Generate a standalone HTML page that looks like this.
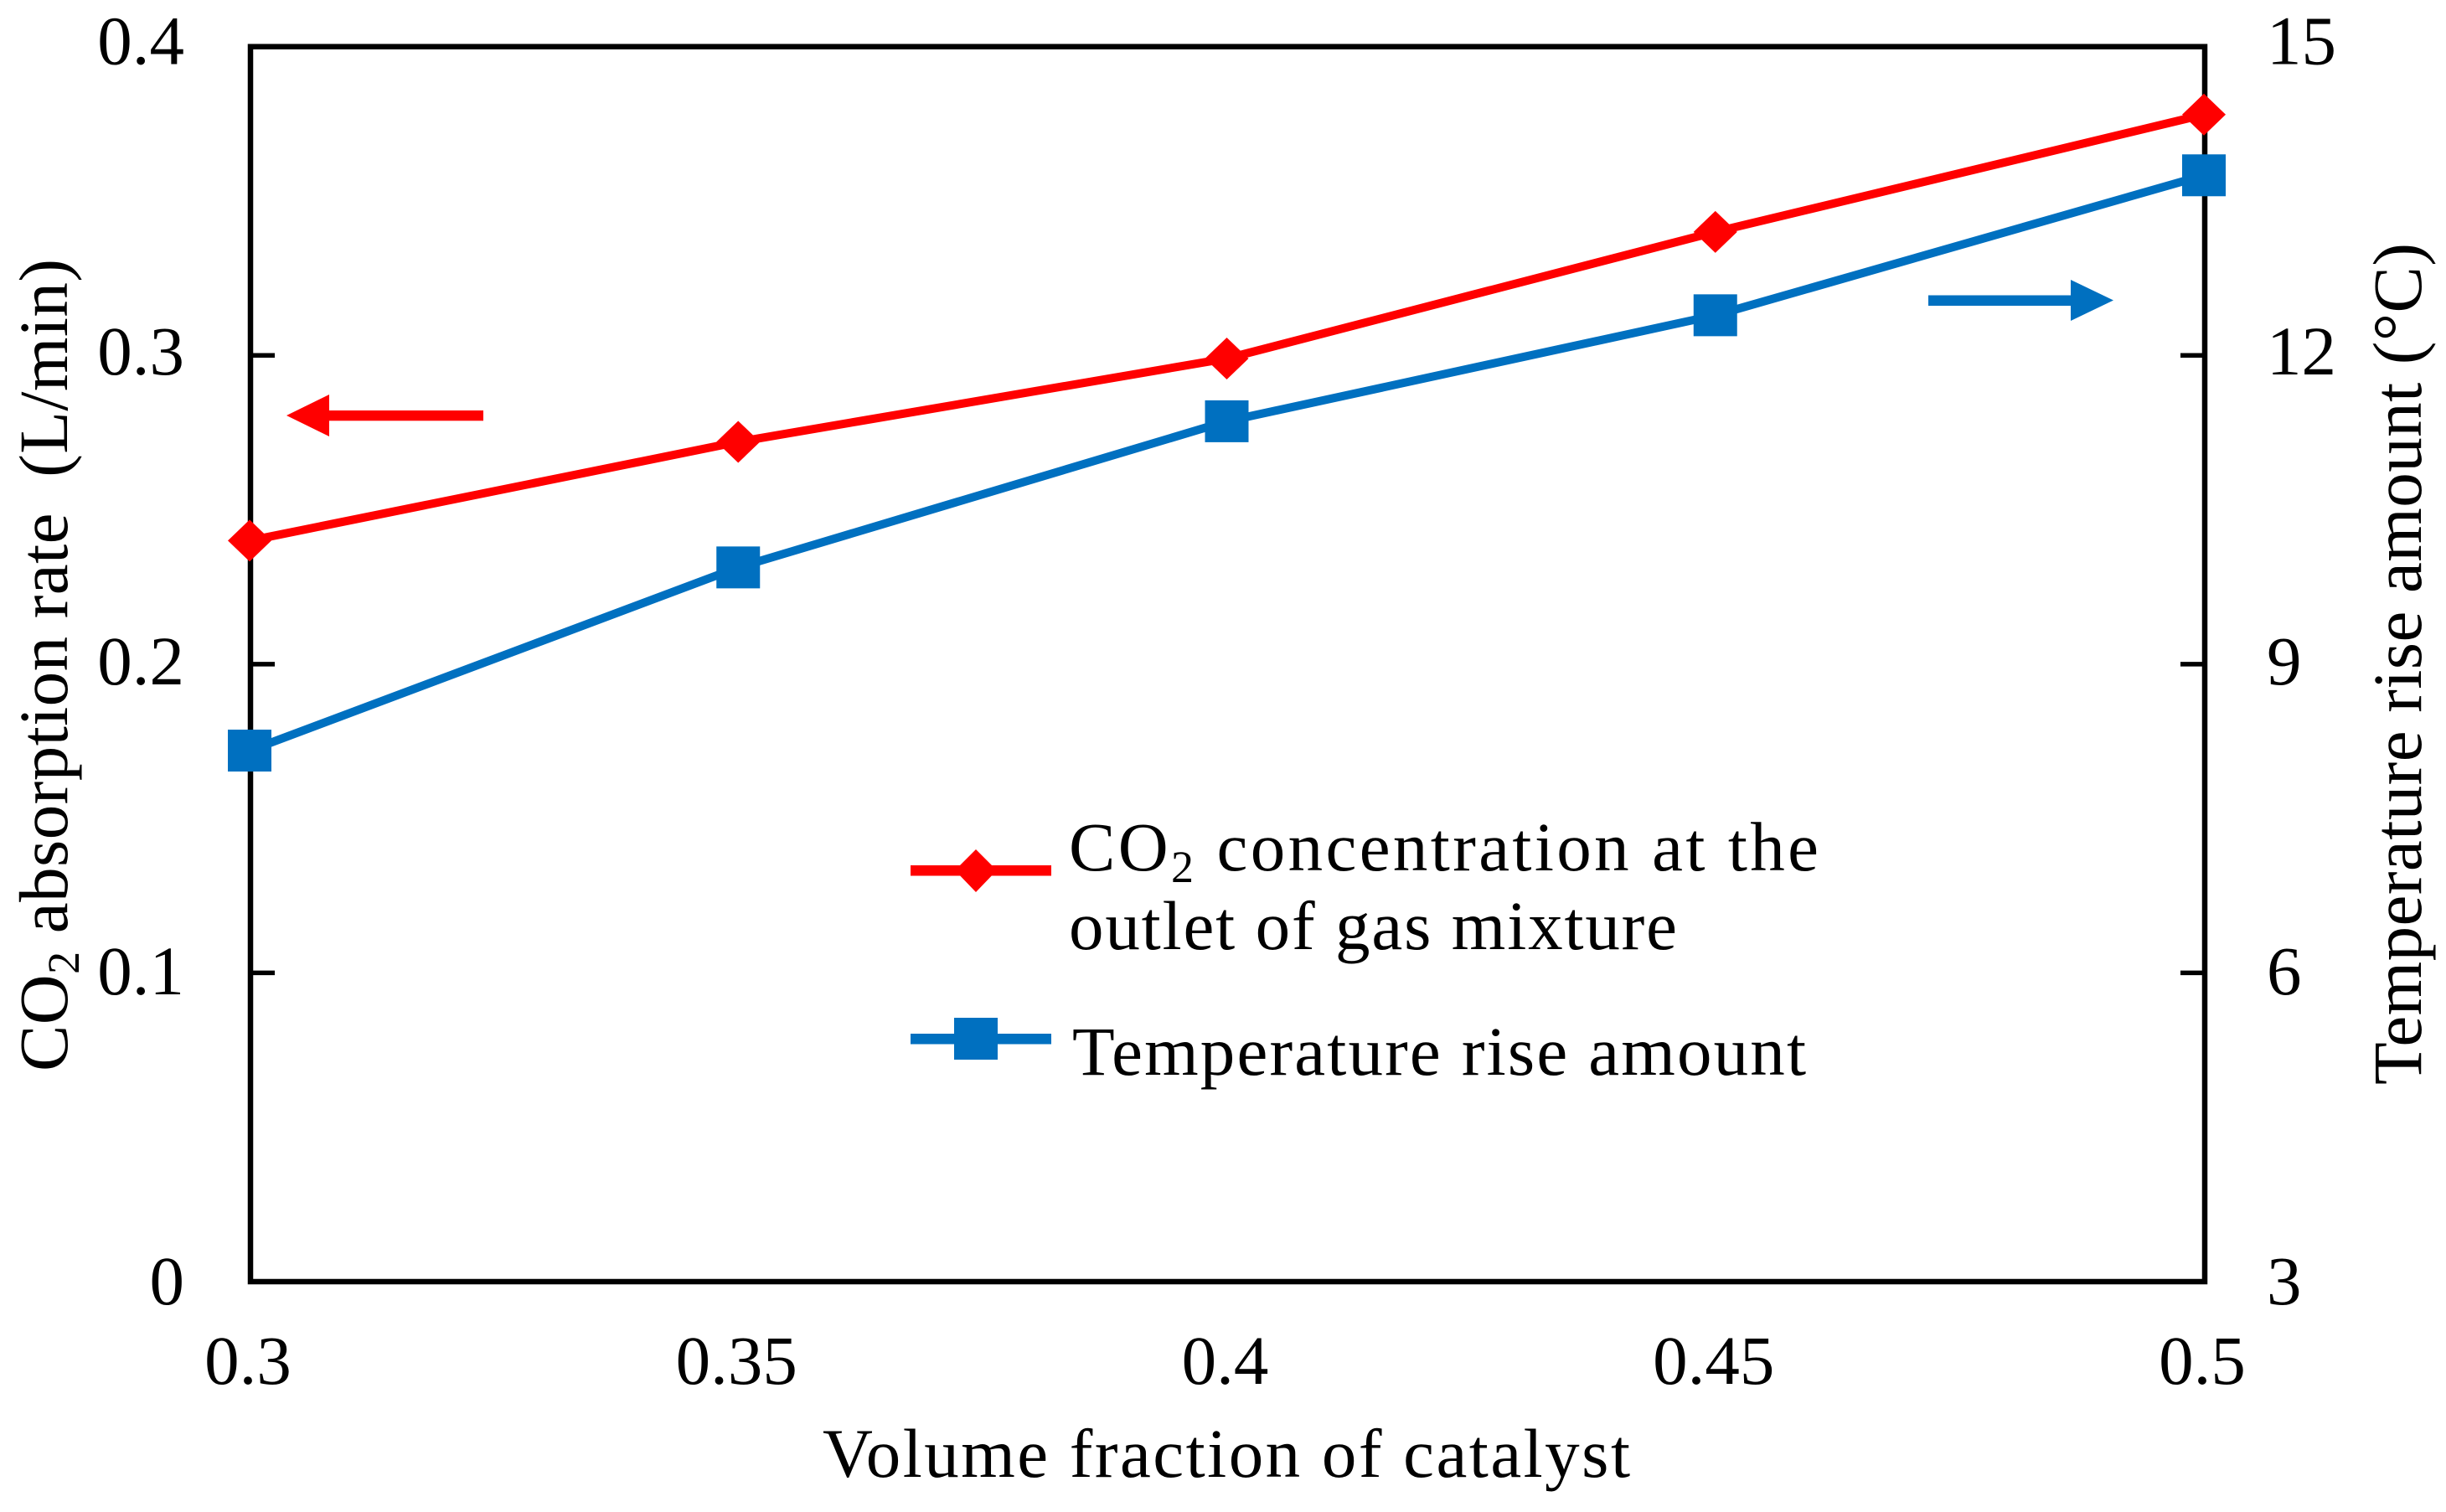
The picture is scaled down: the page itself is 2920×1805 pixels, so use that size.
<!DOCTYPE html>
<html lang="en">
<head>
<meta charset="utf-8">
<title>CO2 absorption rate and temperature rise vs volume fraction of catalyst</title>
<style>
html,body{margin:0;padding:0;background:#fff;}
svg{display:block;}
text{font-family:"Liberation Serif","Times New Roman",serif;font-size:83px;fill:#000;white-space:pre;}
</style>
</head>
<body>
<svg id="chart" xmlns="http://www.w3.org/2000/svg" width="2920" height="1805" viewBox="0 0 2920 1805">
  <rect x="0" y="0" width="2920" height="1805" fill="#ffffff"/>
  <rect x="299" y="55.7" width="2333" height="1474.3" fill="none" stroke="#000" stroke-width="6.5"/>
  <g id="ticks"></g>
  <g id="tick-labels"></g>

  <text x="982" y="1763" textLength="964">Volume fraction of catalyst</text>
  <text transform="translate(80,1279) rotate(-90)" textLength="970">CO<tspan font-size="54" dy="14">2</tspan><tspan dy="-14"> absorption rate  (L/min)</tspan></text>
  <text transform="translate(2890,1295) rotate(-90)" textLength="1005">Temperature rise amount (°C)</text>

  <g id="series"></g>

  <g>
    <rect x="385" y="490" width="192" height="12.3" fill="#ff0000"/>
    <polygon points="342,496 393,471 393,521" fill="#ff0000"/>
  </g>
  <g>
    <rect x="2302" y="352.5" width="175" height="12.5" fill="#0070c0"/>
    <polygon points="2523,358.5 2472,334 2472,383" fill="#0070c0"/>
  </g>

  <g>
    <g>
      <rect x="1087" y="1033" width="168" height="12.5" fill="#ff0000"/>
      <polygon points="1165,1014 1190,1039 1165,1065 1140,1039" fill="#ff0000"/>
      <text x="1276" y="1039" textLength="895">CO<tspan font-size="54" dy="14">2</tspan><tspan dy="-14"> concentration at the</tspan></text>
      <text x="1276" y="1133" textLength="726">outlet of gas mixture</text>
    </g>
    <g>
      <rect x="1087" y="1234" width="168" height="12.5" fill="#0070c0"/>
      <rect x="1139" y="1215" width="52" height="50" fill="#0070c0"/>
      <text x="1280" y="1283" textLength="876">Temperature rise amount</text>
    </g>
  </g>
</svg>
<script>
const categories = [0.3, 0.35, 0.4, 0.45, 0.5];
const co2Rate = [0.24, 0.272, 0.299, 0.34, 0.378];
const tempRise = [8.16, 9.94, 11.36, 12.39, 13.75];
const xTickLabels = ["0.3", "0.35", "0.4", "0.45", "0.5"];
const leftTicks = [0, 0.1, 0.2, 0.3, 0.4];
const leftTickLabels = ["0", "0.1", "0.2", "0.3", "0.4"];
const rightTicks = [3, 6, 9, 12, 15];
const rightTickLabels = ["3", "6", "9", "12", "15"];

const NS = "http://www.w3.org/2000/svg";
const plot = { xStart: 298, xEnd: 2631, top: 55.7, bottom: 1530, left: 299, right: 2632 };
function xScale(v) { return plot.xStart + (v - 0.3) / (0.5 - 0.3) * (plot.xEnd - plot.xStart); }
function yLeft(v) { return plot.bottom - (v - 0) / (0.4 - 0) * (plot.bottom - plot.top); }
function yRight(v) { return plot.bottom - (v - 3) / (15 - 3) * (plot.bottom - plot.top); }
function make(tag, attrs, parent, text) {
  const el = document.createElementNS(NS, tag);
  for (const k in attrs) el.setAttribute(k, attrs[k]);
  if (text !== undefined) el.textContent = text;
  parent.appendChild(el);
  return el;
}
const ticksG = document.getElementById("ticks");
const labelsG = document.getElementById("tick-labels");
const seriesG = document.getElementById("series");

function baselineFor(tickY) {
  return tickY + 21 + (tickY - plot.top) / (plot.bottom - plot.top) * 6;
}

leftTicks.forEach(function (v, i) {
  const y = yLeft(v);
  if (i > 0 && i < leftTicks.length - 1) {
    const t = make("line", { x1: plot.left, x2: plot.left + 29, y1: y, y2: y, stroke: "#000", "stroke-width": 5.5 }, ticksG);
    
    
  }
  const l = make("text", { x: 220, y: baselineFor(y), "text-anchor": "end" }, labelsG, leftTickLabels[i]);
  
  
});

rightTicks.forEach(function (v, i) {
  const y = yRight(v);
  if (i > 0 && i < rightTicks.length - 1) {
    const t = make("line", { x1: plot.right - 29, x2: plot.right, y1: y, y2: y, stroke: "#000", "stroke-width": 5.5 }, ticksG);
    
    
  }
  const l = make("text", { x: 2706, y: baselineFor(y), "text-anchor": "start" }, labelsG, rightTickLabels[i]);
  
  
});

categories.forEach(function (v, i) {
  const l = make("text", { x: xScale(v) - 2, y: 1652, "text-anchor": "middle" }, labelsG, xTickLabels[i]);
  
  
});

const co2Points = categories.map(function (v, i) { return xScale(v) + "," + yLeft(co2Rate[i]); }).join(" ");
const co2Line = make("polyline", { points: co2Points, fill: "none", stroke: "#ff0000", "stroke-width": 10 }, seriesG);



const tempPoints = categories.map(function (v, i) { return xScale(v) + "," + yRight(tempRise[i]); }).join(" ");
const tempLine = make("polyline", { points: tempPoints, fill: "none", stroke: "#0070c0", "stroke-width": 10 }, seriesG);



categories.forEach(function (v, i) {
  const cx = xScale(v);
  const cy = yLeft(co2Rate[i]);
  const d = make("polygon", { points: cx + "," + (cy - 25) + " " + (cx + 26) + "," + cy + " " + cx + "," + (cy + 25) + " " + (cx - 26) + "," + cy, fill: "#ff0000" }, seriesG);
  
  
});

categories.forEach(function (v, i) {
  const cx = xScale(v);
  const cy = yRight(tempRise[i]);
  const s = make("rect", { x: cx - 26, y: cy - 25, width: 52, height: 50, fill: "#0070c0" }, seriesG);
  
  
});
</script>
</body>
</html>
